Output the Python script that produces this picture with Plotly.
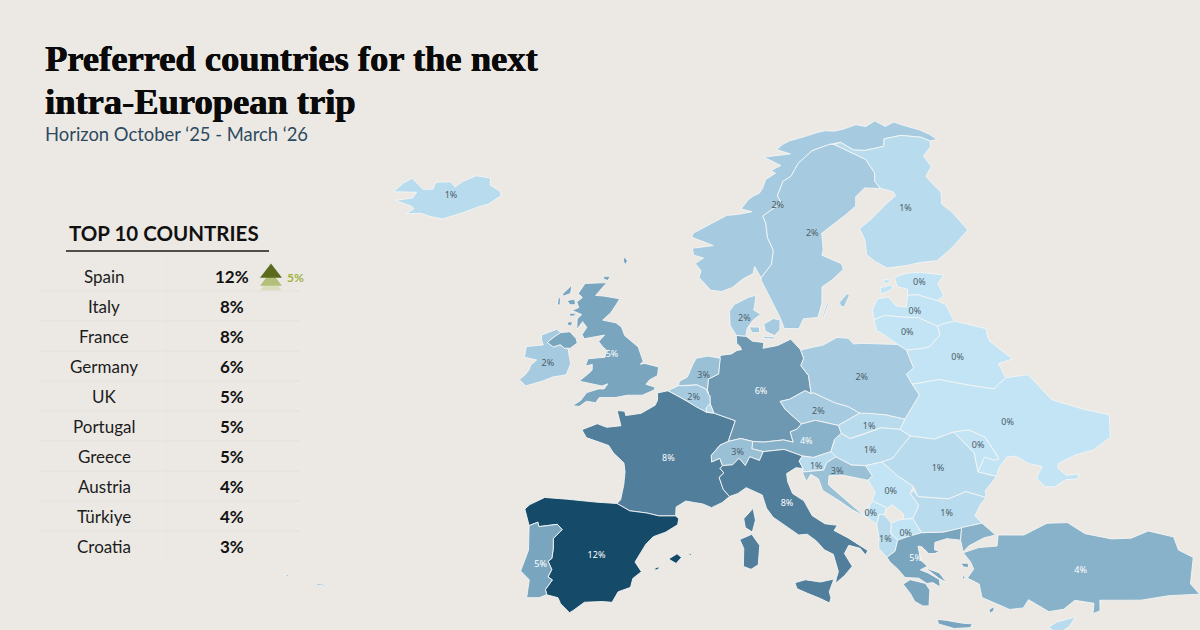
#######################################################################
# Preferred countries for the next intra-European trip
# Map outlines are lon/lat, the value of a country gives its colour
#######################################################################
import numpy as np
import plotly.graph_objects as go
from plotly.colors import sample_colorscale

#######################################################################
# Data
#######################################################################
TOP_NAMES = ["Spain", "Italy", "France", "Germany", "UK", "Portugal", "Greece", "Austria", "Türkiye", "Croatia"]
TOP_VALUES = ["12%", "8%", "8%", "6%", "5%", "5%", "5%", "4%", "4%", "3%"]

COUNTRIES = ["Iceland", "Ireland", "UK", "France", "Spain", "Portugal", "Germany", "Netherlands", "Belgium",
             "Luxembourg", "Denmark", "Norway", "Sweden", "Finland", "Estonia", "Latvia", "Lithuania", "Belarus",
             "Poland", "Czechia", "Slovakia", "Austria", "Switzerland", "Italy", "Slovenia", "Croatia", "Hungary",
             "Serbia", "Montenegro", "Albania", "N. Macedonia", "Greece", "Bulgaria", "Romania", "Moldova",
             "Ukraine", "Türkiye", "Cyprus"]
SHARES = [1, 2, 5, 8, 12, 5, 6, 3, 2, 1, 2, 2, 2, 1, 0, 0, 0, 0, 2, 2, 1, 4, 3, 8, 1, 3, 1, 0, 0, 1, 0, 5, 1, 1, 0, 0, 4, 1]
# where the label of a country sits, None = no label
LABEL_LON = [-18.5, -8, -2.4, 2.5, -3.4, -7.9, 10.5, 5.6, 4.7, None, 9.4, 13.6, 16.5, 26, 25.7, 24.8, 23.8, 27.9, 19.3,
             15.3, 19.5, 14.1, 8.3, 12.2, 14.8, 16.5, 19.4, 20.8, 19, 20, 21.7, 22.3, 25.2, 24.9, 28.5, 31.3, 35.5, None]
LABEL_LAT = [65.05, 53, 53.6, 46.4, 39.85, 39.25, 51, 52.1, 50.55, None, 56.1, 64.3, 62.25, 64.3, 58.8, 56.75, 55.2, 53.5, 52,
             49.6, 48.55, 47.5, 46.8, 43.3, 45.85, 45.5, 46.95, 44.15, 42.65, 40.85, 41.3, 39.6, 42.65, 45.7, 47.3, 48.95, 38.8, None]

ICELAND = [[(-22.7,63.85),(-22,64.2),(-22.3,64.4),(-24,64.85),(-22.3,65),(-22,65.4),(-24.4,65.5),(-23.5,66.1),(-22.7,66.45),(-21.4,65.6),(-20.4,65.6),(-20.2,66.1),(-18.7,66.1),(-18.2,65.7),(-17.5,66.1),(-16.2,66.5),(-14.7,66.3),(-14.7,65.8),(-13.6,65.3),(-13.5,65),(-14.7,64.4),(-15.5,64.25),(-17,63.85),(-19,63.4),(-20.3,63.6),(-21.2,63.85)]]
IRELAND = [[(-6.3,54.05),(-6.1,53.35),(-6,52.95),(-6.35,52.2),(-7.5,52.05),(-8.3,51.8),(-9.8,51.45),(-10.4,51.9),(-9.9,52.25),(-9.6,52.6),(-9.5,52.9),(-9,53.25),(-10.1,53.45),(-10,54.2),(-9,54.3),(-8.5,54.3),(-8.7,54.65),(-8.7,55),(-8.2,55.15),(-7.4,55.38),(-7,55.15),(-7.4,54.95),(-7.9,54.65),(-8.15,54.45),(-7.6,54.15),(-7,54.3),(-6.6,54.05)]]
UK = [[(-7,55.15),(-6.2,55.2),(-5.6,54.7),(-5.5,54.4),(-6.1,54.05),(-6.3,54.05),(-6.6,54.05),(-7,54.3),(-7.6,54.15),(-8.15,54.45),(-7.9,54.65),(-7.4,54.95)],
      [(-5.7,50.05),(-5,50.4),(-4.5,50.95),(-3.5,51.2),(-3,51.2),(-2.7,51.55),(-3.2,51.4),(-4.2,51.55),(-5.2,51.75),(-4.5,52.2),(-4.1,52.5),(-4.1,52.9),(-4.7,52.8),(-4.5,53.3),(-3.4,53.35),(-3,53.4),(-2.9,53.9),(-3.2,54.1),(-3.6,54.5),(-3.1,54.95),(-3.8,54.85),(-4.9,54.7),(-5.1,55),(-4.7,55.5),(-5.1,55.9),(-5.6,55.35),(-5.6,56.1),(-5.2,56.4),(-6.1,56.7),(-5.5,56.9),(-5.7,57.3),(-5.2,57.6),(-5.6,57.9),(-5,58.6),(-3,58.65),(-4,57.75),(-3.3,57.7),(-1.8,57.5),(-2.1,57.1),(-2.6,56.5),(-3.3,56),(-2.1,55.8),(-1.6,55.5),(-1.3,54.9),(-0.1,54.1),(0.1,53.6),(0.35,53.1),(0.1,52.9),(0.5,52.95),(1.7,52.7),(1.6,52.1),(0.9,51.8),(0.6,51.5),(1.4,51.3),(1.3,51.1),(0.3,50.75),(-1,50.75),(-2,50.6),(-3.4,50.6),(-3.7,50.25),(-4.5,50.35),(-5.1,50)],
      [(-7,57.9),(-6.2,58.5),(-6.3,57.9),(-7,57.7)], [(-6.6,57.4),(-5.9,57.5),(-5.8,57.1),(-6.3,57.1)], [(-7.4,57.6),(-7.2,57.6),(-7.2,57.1),(-7.45,57.1)],
      [(-6.3,56.5),(-5.7,56.5),(-5.9,56.3),(-6.3,56.3)], [(-6.4,55.9),(-6,55.9),(-6.1,55.6),(-6.5,55.7)], [(-1.4,60.5),(-1.1,60.2),(-1.3,59.9),(-1.5,60.2)], [(-3.3,59.1),(-2.7,59.1),(-2.9,58.8),(-3.3,58.9)]]
FRANCE = [[(1.6,50.9),(2.5,51.05),(3.2,50.75),(4.2,50.3),(4.85,49.95),(5.8,49.55),(6.4,49.5),(8.2,48.97),(7.55,47.55),(6.85,47.3),(6.1,46.6),(6.1,46.15),(6.8,46.4),(7,45.9),(6.8,45.7),(7.1,45.4),(6.7,45.1),(7,44.3),(7.5,43.8),(6.9,43.4),(6,43.05),(5.3,43.3),(4.6,43.4),(3.9,43.5),(3.1,43.1),(3.05,42.5),(1.7,42.5),(0.7,42.7),(-0.7,42.85),(-1.75,43.35),(-1.45,43.6),(-1.2,44.6),(-1.1,45.5),(-1.2,46.1),(-2.1,46.8),(-2.5,47.3),(-4.4,47.85),(-4.8,48.4),(-3.5,48.8),(-2.7,48.55),(-1.5,48.65),(-1.85,49.7),(-1.2,49.65),(-1.1,49.35),(0.2,49.5),(1.4,50.05),(1.6,50.4)],
          [(9.4,43),(9.55,42.2),(9.25,41.4),(8.7,41.7),(8.6,42.3)]]
SPAIN = [[(-9.3,43),(-8.9,41.87),(-8.2,42.1),(-8.1,41.8),(-6.6,41.95),(-6.2,41.6),(-6.9,41),(-6.9,40.3),(-7,39.65),(-7.3,39.45),(-7,38.9),(-7.3,38.4),(-6.95,38.2),(-7.5,37.55),(-7.4,37.2),(-6.5,37),(-6.3,36.6),(-5.6,36),(-5.3,36.15),(-4.4,36.7),(-3,36.75),(-2.2,36.7),(-1.7,37.4),(-0.7,37.7),(-0.5,38.3),(0.2,38.75),(-0.3,39.4),(0.6,40.6),(1.2,41.1),(2.2,41.4),(3.2,41.9),(3.3,42.3),(3.05,42.5),(1.7,42.5),(0.7,42.7),(-0.7,42.85),(-1.75,43.35),(-3.5,43.45),(-5.8,43.65),(-7.7,43.78),(-8.9,43.3)],
         [(2.4,39.6),(3.1,39.95),(3.45,39.7),(3,39.3)], [(3.8,40),(4.3,39.95),(4.2,39.85),(3.8,39.95)], [(1.25,38.95),(1.6,39.1),(1.6,38.95),(1.35,38.85)]]
PORTUGAL = [[(-8.9,41.87),(-8.2,42.1),(-8.1,41.8),(-6.6,41.95),(-6.2,41.6),(-6.9,41),(-6.9,40.3),(-7,39.65),(-7.3,39.45),(-7,38.9),(-7.3,38.4),(-6.95,38.2),(-7.5,37.55),(-7.4,37.2),(-8,37),(-9,37),(-8.8,38.2),(-9.5,38.8),(-8.9,40.2)],
            [(-28.6,38.5),(-28.2,38.55),(-28.2,38.4),(-28.6,38.45)], [(-27.35,38.75),(-27,38.75),(-27.1,38.65),(-27.35,38.68)], [(-25.85,37.9),(-25.2,37.85),(-25.2,37.75),(-25.85,37.8)]]
GERMANY = [[(8.6,54.9),(9.45,54.85),(10,54.5),(11,54.4),(10.9,54),(12.2,54.2),(13.4,54.65),(14.2,53.9),(14.4,53.3),(14.1,52.8),(14.7,52.1),(14.8,50.85),(14.3,51.05),(12.9,50.45),(12.1,50.3),(12.5,49.75),(13.8,48.75),(13.4,48.4),(12.8,48.2),(13,47.5),(12.2,47.65),(10.5,47.5),(9.6,47.55),(8.6,47.75),(7.55,47.55),(8.2,48.97),(6.4,49.5),(6.1,50.15),(6.1,50.7),(6,50.75),(5.9,51.1),(6,51.85),(6.9,52.2),(7.1,53.3),(7.1,53.5),(8.1,53.6),(8.6,53.85),(9,53.9),(8.9,54.1),(8.6,54.35)]]
NETHERLANDS = [[(3.4,51.4),(4.2,51.4),(5,51.45),(5.8,51.15),(6,50.75),(5.9,51.1),(6,51.85),(6.9,52.2),(7.1,53.3),(6,53.45),(5,53.3),(4.7,52.9),(4.2,52),(3.5,51.7)]]
BELGIUM = [[(2.5,51.05),(3.4,51.4),(4.2,51.4),(5,51.45),(5.8,51.15),(6,50.75),(6.1,50.7),(6.1,50.15),(5.75,49.85),(5.8,49.55),(4.85,49.95),(4.2,50.3),(3.2,50.75)]]
LUXEMBOURG = [[(5.8,49.55),(6.4,49.5),(6.1,50.15),(5.75,49.85)]]
DENMARK = [[(8.6,54.9),(8.1,55.6),(8.1,56.6),(8.6,57.1),(9.9,57.6),(10.6,57.75),(10.4,57),(10.3,56.7),(10.9,56.4),(10.2,56),(9.6,55.4),(9.45,54.85)],
           [(11.1,55.7),(12,56.1),(12.6,56),(12.5,55.3),(12,54.9),(11.2,55.2)], [(9.8,55.5),(10.7,55.5),(10.7,55.1),(10,55.1)], [(11,54.85),(12,54.8),(11.9,54.65),(11,54.7)]]
NORWAY = [[(11.2,59),(12.3,60),(12.6,61),(12.2,61.9),(12.2,63),(12,63.5),(14,64.5),(13.7,65),(14.5,66.1),(15.4,66.5),(16.4,67.5),(18.1,68.5),(20.1,69.05),(21.3,69.25),(22.4,68.7),(23.6,68.7),(25.7,69.1),(26,69.7),(27.9,70.05),(30,70),(30.8,69.75),(31.6,69.9),(31,70.3),(30.1,70.6),(28.5,70.9),(27.7,71.1),(26.6,70.7),(25.7,71.1),(24.5,70.6),(23.5,70.7),(22,70.3),(21,70.1),(20,70.1),(19,69.9),(17.8,69.6),(16,69.2),(15.2,68.9),(14.5,68.5),(15.8,68.2),(13,67.9),(14.6,67.3),(13.5,66.9),(13.9,66.7),(12.8,66.2),(12.4,65.6),(12,65.2),(11.2,64.9),(10.7,64.6),(10,64),(11,63.8),(9.7,63.6),(8.5,63.5),(8,63.3),(7,62.9),(6.3,62.6),(5.2,62.2),(5,61.9),(7,61.3),(5,61.1),(5.1,60.6),(6,60.4),(5.2,60),(5.7,59.5),(5.5,59),(6.5,58.1),(7.5,58),(8.5,58.3),(9.5,58.9),(10.5,59.3),(10.7,59.8)]]
SWEDEN = [[(11.2,59),(12.3,60),(12.6,61),(12.2,61.9),(12.2,63),(12,63.5),(14,64.5),(13.7,65),(14.5,66.1),(15.4,66.5),(16.4,67.5),(18.1,68.5),(20.1,69.05),(20.6,69.05),(23.4,68),(23.9,67),(23.7,66.3),(24.1,65.8),(22.5,65.8),(21.4,65.1),(21.2,64.4),(20,63.7),(18.5,62.9),(17.4,62.3),(17.3,61.1),(17.1,60.7),(18.8,60.1),(18.9,59.7),(17.7,58.9),(16.7,58.4),(16.5,57.2),(16,56.2),(14.7,56.1),(14.2,55.4),(12.9,55.4),(12.6,56.2),(11.9,57.5),(11.2,58.8)],
          [(18.1,57.3),(18.9,57.95),(19.1,57.8),(18.5,57),(18.2,57)], [(16.4,56.25),(17,57.3),(17.1,57.2),(16.5,56.2)]]
FINLAND = [[(20.6,69.05),(21.3,69.25),(22.4,68.7),(23.6,68.7),(25.7,69.1),(26,69.7),(27.9,70.05),(30,70),(30.8,69.75),(30.6,69.3),(29.5,68.5),(29.9,67.7),(29,66.9),(30,65.7),(29.7,64.8),(30.5,64.2),(31.5,62.9),(29.5,61.5),(27.8,60.5),(26,60.3),(25,60.1),(23,59.85),(22,60.3),(21.3,60.8),(21.4,61.9),(21.1,62.7),(22.5,63.5),(24.5,64.8),(25.4,65.3),(25.2,65.6),(24.1,65.8),(23.7,66.3),(23.9,67),(23.4,68)]]
ESTONIA = [[(23.5,59.2),(24.7,59.5),(26,59.6),(28.1,59.45),(27.4,58.8),(27.7,57.9),(27,57.55),(25.3,57.95),(24.4,57.9),(24.5,58.35),(23.6,58.5)],
           [(22,58.4),(22.9,58.6),(23.3,58.5),(22.8,58.2),(22,57.95)], [(22.4,59),(23,59),(23,58.8),(22.5,58.7)]]
LATVIA = [[(21,56.8),(21.6,57.6),(22.6,57.75),(23.2,57.1),(24.1,57.05),(24.4,57.9),(25.3,57.95),(27,57.55),(27.7,57.3),(28.2,56.1),(27,55.85),(26.6,55.7),(25,56.3),(24,56.3),(22,56.4),(21,56.1)]]
LITHUANIA = [[(21,56.1),(22,56.4),(24,56.3),(25,56.3),(26.6,55.7),(26.7,55.1),(25.7,54.3),(25.5,54.2),(25,54.1),(23.5,53.95),(22.8,54.35),(21.4,55.2),(21.1,55.3)]]
BELARUS = [[(28.2,56.1),(30.9,55.6),(30.9,55),(31,54.7),(32.7,53.45),(31.4,53.1),(31.8,52.1),(30.6,51.3),(28.7,51.5),(26,51.9),(23.6,51.55),(23.2,52.25),(23.9,52.7),(23.5,53.95),(25,54.1),(25.5,54.2),(25.7,54.3),(26.7,55.1),(26.6,55.7),(27,55.85)]]
POLAND = [[(14.2,53.9),(16.2,54.25),(17.5,54.8),(18.5,54.75),(18.9,54.35),(19.6,54.4),(22.8,54.35),(23.5,53.95),(23.9,52.7),(23.2,52.25),(23.6,51.55),(24.1,50.8),(22.7,49.2),(22.6,49.1),(21,49.4),(19.5,49.5),(18.8,49.5),(17.9,49.95),(16.8,50.2),(15,50.9),(14.8,50.85),(14.7,52.1),(14.1,52.8),(14.4,53.3)]]
CZECHIA = [[(12.1,50.3),(12.9,50.45),(14.3,51.05),(14.8,50.85),(15,50.9),(16.8,50.2),(17.9,49.95),(18.8,49.5),(17.1,48.75),(16.9,48.65),(15,49),(13.8,48.75),(12.5,49.75)]]
SLOVAKIA = [[(17.1,48.75),(18.8,49.5),(19.5,49.5),(21,49.4),(22.6,49.1),(22.1,48.4),(20.5,48.5),(18.8,48),(17.8,47.75),(17.1,48.1),(16.9,48.65)]]
AUSTRIA = [[(9.6,47.55),(10.5,47.5),(12.2,47.65),(13,47.5),(12.8,48.2),(13.4,48.4),(13.8,48.75),(15,49),(16.9,48.65),(17.1,48.1),(16.5,47.7),(16.1,46.85),(14.6,46.45),(13.7,46.55),(12.2,47),(10.45,46.85),(9.5,47.05)]]
SWITZERLAND = [[(7.55,47.55),(8.6,47.75),(9.6,47.55),(9.5,47.05),(10.45,46.85),(10.1,46.25),(9.3,46.5),(8.9,45.9),(8.4,46.4),(7.85,45.95),(7,45.9),(6.8,46.4),(6.1,46.15),(6.1,46.6),(6.85,47.3)]]
ITALY = [[(7.5,43.8),(7,44.3),(6.7,45.1),(7.1,45.4),(6.8,45.7),(7,45.9),(7.85,45.95),(8.4,46.4),(8.9,45.9),(9.3,46.5),(10.1,46.25),(10.45,46.85),(12.2,47),(13.7,46.55),(13.4,46.2),(13.7,45.7),(13.1,45.75),(12.3,45.35),(12.35,44.8),(12.7,44),(13.6,43.5),(14.2,42.5),(15.2,41.95),(16.2,41.85),(15.9,41.5),(17,41),(18.5,40.15),(18.3,39.85),(17.9,40.3),(17,40.5),(16.6,39.95),(17.15,39.1),(16.5,38.5),(15.7,37.95),(15.8,38.3),(16,38.75),(15.7,39.9),(15,40.2),(14.4,40.8),(13.7,41.25),(13,41.2),(12.6,41.45),(11,42.4),(10.5,43),(10.2,43.9),(8.9,44.4),(8.2,44)],
         [(12.45,38),(13.3,38.2),(14.5,38.05),(15.6,38.25),(15.15,37.4),(15.25,37),(15.1,36.65),(14.4,36.95),(13.4,37.3),(12.6,37.6)], [(8.2,40.9),(9.2,41.25),(9.8,40.5),(9.6,39.2),(9,38.9),(8.4,39.1),(8.5,40.3)]]
SLOVENIA = [[(13.7,46.55),(14.6,46.45),(16.1,46.85),(16.5,46.5),(15.7,46.1),(15.4,45.6),(13.6,45.45),(13.7,45.7),(13.4,46.2)]]
CROATIA = [[(16.5,46.5),(17.7,45.95),(18.9,45.9),(19.4,45.2),(19,44.9),(16.9,45.25),(15.8,45.2),(15.7,44.6),(16.2,44.2),(17.6,43.1),(18.5,42.45),(17.5,42.9),(16.5,43.5),(15.2,44.2),(14.9,45),(14.3,45.3),(13.9,44.8),(13.6,45.45),(15.4,45.6),(15.7,46.1)]]
HUNGARY = [[(16.1,46.85),(16.5,47.7),(17.1,48.1),(17.8,47.75),(18.8,48),(20.5,48.5),(22.1,48.4),(22.9,47.95),(21.2,46.4),(20.3,46.15),(18.9,45.9),(17.7,45.95),(16.5,46.5)]]
SERBIA = [[(18.9,45.9),(20.3,46.15),(21.5,45.2),(22.7,44.5),(22.4,44),(23,43.2),(22.4,42.3),(21.6,42.25),(21.7,42.6),(20.8,43.25),(20.1,42.8),(20.3,43.05),(19.2,43.5),(19.5,44.1),(19,44.9),(19.4,45.2)]]
MONTENEGRO = [[(18.45,42.55),(19,43.3),(19.2,43.5),(20.3,43.05),(20.1,42.55),(19.7,42.6),(19.4,41.9),(18.9,42.25)]]
ALBANIA = [[(19.4,41.9),(19.7,42.6),(20.1,42.55),(20.6,42),(20.5,41.3),(21,40.85),(20.7,40.1),(20,39.7),(19.4,40.3),(19.5,41)]]
N_MACEDONIA = [[(20.6,42),(21.2,42.2),(21.6,42.25),(22.4,42.3),(23,41.35),(21.9,41.1),(21,40.85),(20.5,41.3)]]
GREECE = [[(20,39.7),(20.7,40.1),(21,40.85),(21.9,41.1),(23,41.35),(24.8,41.4),(26.3,41.7),(26.1,40.85),(25,40.95),(24,40.7),(23.9,40.2),(24.3,40.1),(23.9,39.95),(23.4,39.95),(22.9,40.4),(22.6,40.45),(22.7,39.5),(23.2,39.1),(22.6,38.85),(23.2,38.65),(24.05,38.2),(24.05,37.7),(23.5,38),(23,37.95),(22.4,38.3),(21.3,38.35),(20.8,38.9),(20.2,39.4)],
          [(21.7,38.2),(22.9,37.95),(23.2,37.5),(23,36.45),(22.5,36.45),(21.9,36.75),(21.6,37.3),(21.1,37.9)], [(23,39),(24.1,38.65),(24.6,38),(24,38.3)],
          [(23.55,35.55),(24.2,35.5),(25.5,35.3),(26.3,35.25),(26.1,35),(24.8,34.95),(23.6,35.25)], [(25.9,39.3),(26.5,39.3),(26.5,39),(26.1,39.05)], [(26,38.5),(26.1,38.35),(26.05,38.2),(25.9,38.3)], [(27.75,36.2),(28.2,36.4),(28.1,36.1),(27.8,35.95)]]
BULGARIA = [[(22.4,44),(22.7,44.2),(23,43.8),(25.5,43.65),(27,44.15),(28.6,43.75),(28,43.2),(27.5,42.5),(28,42),(26.3,41.7),(24.8,41.4),(23,41.35),(22.4,42.3),(23,43.2)]]
ROMANIA = [[(20.3,46.15),(21.2,46.4),(22.9,47.95),(24.9,47.75),(26.6,48.25),(28.1,46.8),(28.2,45.5),(29.7,45.2),(28.6,44.2),(28.6,43.75),(27,44.15),(25.5,43.65),(23,43.8),(22.7,44.5),(21.5,45.2)]]
MOLDOVA = [[(26.6,48.25),(27.9,48.4),(29.2,47.9),(29.9,46.8),(30.1,46.4),(29.7,46.3),(28.9,46.5),(28.2,45.5),(28.1,46.8)]]
UKRAINE = [[(23.6,51.55),(26,51.9),(28.7,51.5),(30.6,51.3),(31.8,52.1),(33.8,52.35),(34.4,51.7),(35.4,50.6),(38,49.95),(40.1,49.6),(39.8,48),(38.2,47.1),(36.5,46.7),(35,46.1),(34.9,45.8),(35.5,45.3),(36.6,45.4),(36.4,45.05),(35.4,45),(34.4,44.5),(33.6,44.5),(33,45.1),(33.6,45.9),(32.5,46.1),(31.5,46.6),(30.8,46.55),(30,45.8),(29.7,45.2),(28.2,45.5),(28.9,46.5),(29.7,46.3),(30.1,46.4),(29.9,46.8),(29.2,47.9),(27.9,48.4),(26.6,48.25),(24.9,47.75),(22.9,47.95),(22.1,48.4),(22.6,49.1),(24.1,50.8)]]
TURKIYE = [[(26.2,40),(27.5,40.35),(29,40.45),(29.2,41.2),(31.3,41.2),(33.3,42),(35,42.05),(36.3,41.3),(38.4,40.95),(40,41),(41.5,41.5),(43.5,41.1),(43.7,40.2),(44.8,39.7),(44.2,37.9),(44.8,37.2),(42.3,37.1),(40,36.8),(38,36.8),(36.7,36.8),(36.6,36.1),(36,35.9),(36.2,36.6),(34.7,36.8),(33.7,36.2),(32.5,36.05),(31,36.85),(30.5,36.3),(29.4,36.2),(28,36.7),(27.3,37),(27.2,37.9),(26.3,38.3),(26.9,38.9),(26.7,39.4)],
           [(26.3,41.7),(28,42),(29,41.2),(28,41),(26.7,40.45),(26.2,40.05),(26.1,40.85)]]
CYPRUS = [[(32.3,35),(33,35.35),(34.6,35.7),(33.9,35),(33,34.6)]]

OUTLINES = [ICELAND, IRELAND, UK, FRANCE, SPAIN, PORTUGAL, GERMANY, NETHERLANDS, BELGIUM, LUXEMBOURG, DENMARK, NORWAY,
            SWEDEN, FINLAND, ESTONIA, LATVIA, LITHUANIA, BELARUS, POLAND, CZECHIA, SLOVAKIA, AUSTRIA, SWITZERLAND, ITALY,
            SLOVENIA, CROATIA, HUNGARY, SERBIA, MONTENEGRO, ALBANIA, N_MACEDONIA, GREECE, BULGARIA, ROMANIA, MOLDOVA,
            UKRAINE, TURKIYE, CYPRUS]

#######################################################################
# Colours and map projection
#######################################################################
BG = "#ECE9E4"
SHARE_SCALE = [[0, "#C2E4F5"], [1/12, "#B8DBEE"], [2/12, "#A6CBE0"], [3/12, "#9AC0D6"], [4/12, "#88B2CA"],
               [5/12, "#7AA5BE"], [6/12, "#6E98B2"], [8/12, "#507E9B"], [1, "#154A68"]]
# polynomial of the map image: lon/lat -> picture x and y
CX = [755.83, 117.11, -6.83, 0.05, -8.15, -1.12, -0.03, 0.07, -1.29, -1.04]
CY = [405.77, 0.03, -144.8, 0.32, 0.53, 2.6, 0.01, 0.3, 0.34, 0.26]

def project(lon, lat):
    u = (np.asarray(lon, dtype=float) - 10) / 10
    v = (np.asarray(lat, dtype=float) - 50) / 10
    basis = [u**0, u, v, u*u, u*v, v*v, u**3, u*u*v, u*v*v, v**3]
    return sum(c * b for c, b in zip(CX, basis)), sum(c * b for c, b in zip(CY, basis))

#######################################################################
# Figure
#######################################################################
fig = go.Figure()

for name, share, polygons in zip(COUNTRIES, SHARES, OUTLINES):
    xs, ys = [], []
    for ring in polygons:
        px, py = project([p[0] for p in ring], [p[1] for p in ring])
        xs += list(px) + [px[0], None]
        ys += list(py) + [py[0], None]
    fig.add_trace(go.Scatter(
        x=xs, y=ys, mode="lines", fill="toself",
        fillcolor=sample_colorscale(SHARE_SCALE, share / 12)[0],
        line=dict(color="#F4F5F4", width=0.9),
        name=name, hoverinfo="name"))

# labels on the map
keep = [i for i, lon in enumerate(LABEL_LON) if lon is not None]
lx, ly = project([LABEL_LON[i] for i in keep], [LABEL_LAT[i] for i in keep])
fig.add_trace(go.Scatter(
    x=lx, y=ly, mode="text",
    text=[f"{SHARES[i]}%" for i in keep],
    textfont=dict(family="Noto Sans", size=9,
                  color=["#FFFFFF" if SHARES[i] >= 4 else "#4E5D66" for i in keep]),
    hoverinfo="skip"))

# arrow beside the first row
for my, col in [(286, "#DCDDBE"), (281, "#B4BF7C"), (273, "#5B6B1E")]:
    fig.add_trace(go.Scatter(x=[271], y=[my], mode="markers", hoverinfo="skip",
                             marker=dict(symbol="triangle-up", size=19, color=col)))

TEXT = "#111111"
TITLE_FONT = dict(family="Liberation Serif", size=36.5, color="#0A0A0A", weight=700,
                  shadow="0.5px 0 0 #0A0A0A, -0.3px 0 0 #0A0A0A")
notes = [
    dict(x=43, y=58, text="Preferred countries for the next", font=TITLE_FONT, xanchor="left"),
    dict(x=43, y=101, text="intra-European trip", font=TITLE_FONT, xanchor="left"),
    dict(x=43, y=134, text="Horizon October ‘25 - March ‘26", font=dict(family="Lato", size=18.4, color="#2C4A60"), xanchor="left"),
    dict(x=67, y=233, text="<b>TOP 10 COUNTRIES</b>", font=dict(family="Lato", size=20.5, color=TEXT), xanchor="left"),
    dict(x=295, y=277, text="<b>5%</b>", font=dict(family="Lato", size=12, color="#9FB23F"), xanchor="center"),
]
for i, (nm, val) in enumerate(zip(TOP_NAMES, TOP_VALUES)):
    row_y = 276 + 30 * i
    notes.append(dict(x=104, y=row_y, text=nm, font=dict(family="Lato", size=17, color="#1C1C1C"), xanchor="center"))
    notes.append(dict(x=232, y=row_y, text=f"<b>{val}</b>", font=dict(family="Lato", size=17, color=TEXT), xanchor="center"))

shapes = [dict(type="line", x0=66, x1=269, y0=251, y1=251, line=dict(color="#1A1A1A", width=1.5))]
for i in range(9):
    shapes.append(dict(type="line", x0=40, x1=300, y0=291 + 30 * i, y1=291 + 30 * i, line=dict(color="#E4E1DC", width=1)))
shapes.append(dict(type="line", x0=166, x1=166, y0=256, y1=563, line=dict(color="#E7E4DF", width=1)))

fig.update_layout(
    width=1200, height=630,
    margin=dict(l=0, r=0, t=0, b=0),
    paper_bgcolor=BG, plot_bgcolor=BG,
    showlegend=False,
    xaxis=dict(range=[0, 1200], visible=False, fixedrange=True),
    yaxis=dict(range=[630, 0], visible=False, fixedrange=True),
    annotations=[dict(n, xref="x", yref="y", yanchor="middle", showarrow=False) for n in notes],
    shapes=shapes,
)

# page margin off, the figure fills the window
fig.write_html("out.html", config={"displayModeBar": False},
               post_script="document.body.style.margin='0';document.body.style.background='%s';" % BG)
